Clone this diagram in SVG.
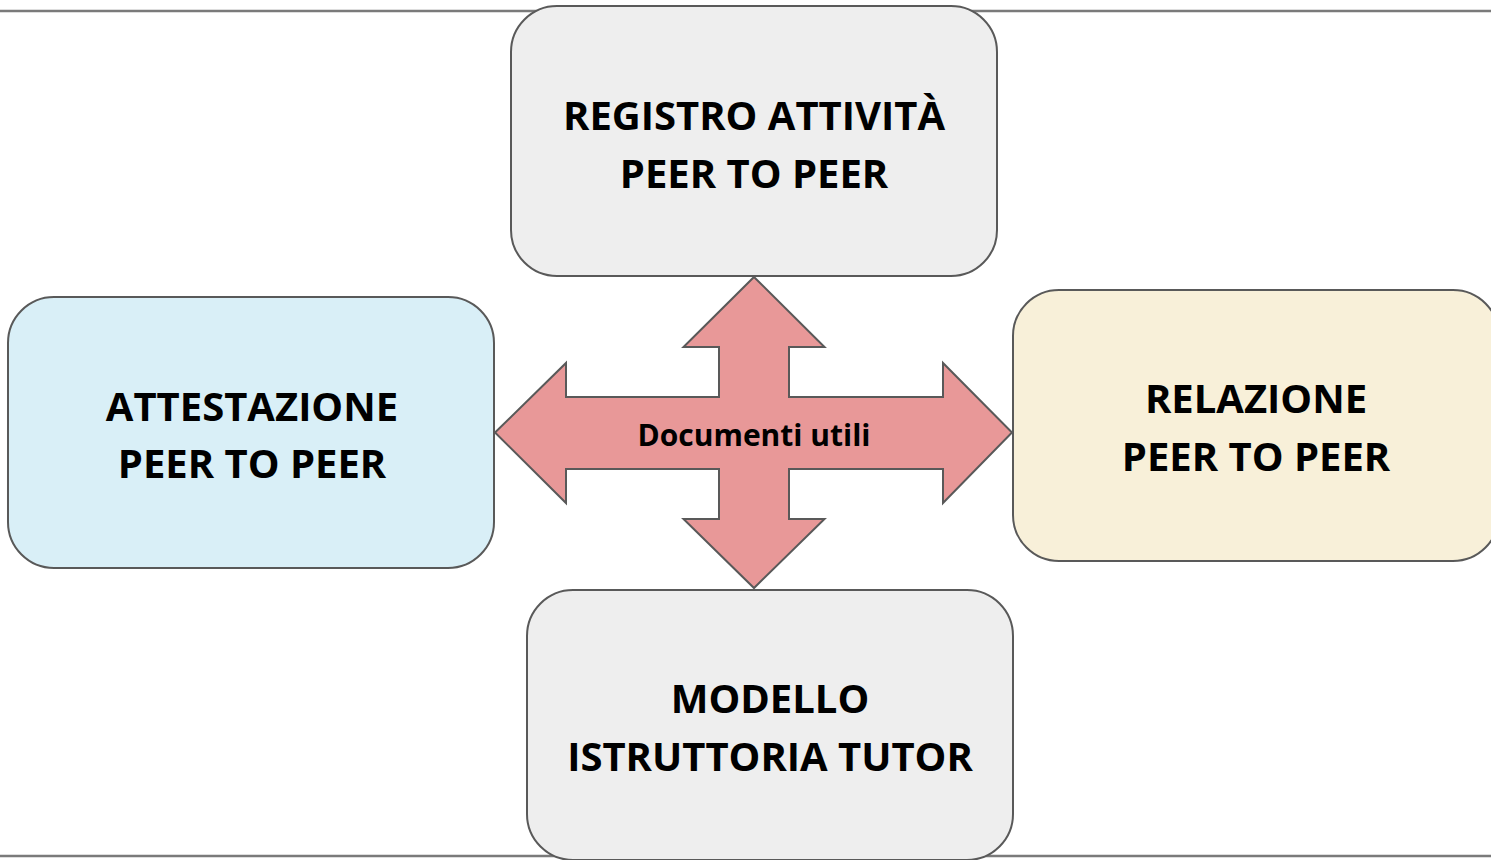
<svg xmlns="http://www.w3.org/2000/svg" width="1491" height="860" viewBox="0 0 1491 860">
<style>
.box{stroke:#595959;stroke-width:2}
.lbl{font-family:"Open Sans","Liberation Sans",sans-serif;font-weight:bold;font-size:40px;fill:#000;text-anchor:middle}
.small{font-size:30px}
.rule{stroke:#7a7a7a;stroke-width:2.5}
</style>
<rect width="1491" height="860" fill="#fff"/>
<line class="rule" x1="0" y1="11" x2="1491" y2="11"/>
<line class="rule" x1="0" y1="856" x2="1491" y2="856"/>
<g id="connectors">
<path d="M754,277 L824.5,347 L789,347 L789,397 L943,397 L943,363 L1012,432.5 L943,503 L943,469 L789,469 L789,519 L824.5,519 L754,588 L683.5,519 L719,519 L719,469 L566,469 L566,503 L495,432.5 L566,363 L566,397 L719,397 L719,347 L683.5,347 Z" fill="#e89898" stroke="#595959" stroke-width="2" stroke-linejoin="miter"/>
<text class="lbl small" x="754" y="446">Documenti utili</text>
</g>
<g id="registro">
<rect class="box" x="511" y="6" width="486" height="270" rx="46" fill="#eeeeee"/>
<text class="lbl" x="754" y="130">REGISTRO ATTIVITÀ</text>
<text class="lbl" x="754" y="188">PEER TO PEER</text>
</g>
<g id="attestazione">
<rect class="box" x="8" y="297" width="486" height="271" rx="46" fill="#d9eff7"/>
<text class="lbl" x="252" y="421">ATTESTAZIONE</text>
<text class="lbl" x="252" y="478">PEER TO PEER</text>
</g>
<g id="relazione">
<rect class="box" x="1013" y="290" width="486" height="271" rx="46" fill="#f8f0d9"/>
<text class="lbl" x="1256" y="413">RELAZIONE</text>
<text class="lbl" x="1256" y="471">PEER TO PEER</text>
</g>
<g id="modello">
<rect class="box" x="527" y="590" width="486" height="270" rx="46" fill="#eeeeee"/>
<text class="lbl" x="770" y="713">MODELLO</text>
<text class="lbl" x="770" y="771">ISTRUTTORIA TUTOR</text>
</g>
</svg>
